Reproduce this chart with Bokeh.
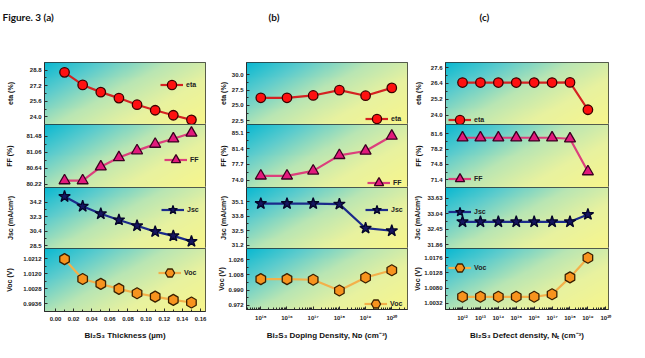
import numpy as np
from bokeh.plotting import figure
from bokeh.layouts import column, row
from bokeh.models import (Range1d, FixedTicker, PrintfTickFormatter, CustomJSTickFormatter,
                          Legend, LegendItem, Label)
from bokeh.embed import file_html
from bokeh.resources import INLINE

# ---------------- data ----------------
thickness_um = [0.01, 0.03, 0.05, 0.07, 0.09, 0.11, 0.13, 0.15]
eta_thk = [28.57, 27.28, 26.54, 25.93, 25.25, 24.68, 24.17, 23.70]
ff_thk = [80.32, 80.32, 80.68, 80.92, 81.10, 81.27, 81.41, 81.56]
jsc_thk = [34.97, 33.69, 32.71, 31.90, 31.14, 30.37, 29.82, 29.09]
voc_thk = [1.0208, 1.0087, 1.0057, 1.0027, 1.0000, 0.9980, 0.9960, 0.9944]

doping_cm3 = [1e15, 1e16, 1e17, 1e18, 1e19, 1e20]
eta_dop = [26.24, 26.24, 26.62, 27.48, 26.58, 27.85]
ff_dop = [75.03, 75.03, 76.19, 79.82, 80.84, 84.33]
jsc_dop = [34.95, 34.95, 34.95, 34.90, 32.73, 32.50]
voc_dop = [1.0029, 1.0029, 1.0021, 0.9894, 1.0048, 1.0133]

defect_cm3 = [1e12, 1e13, 1e14, 1e15, 1e16, 1e17, 1e18, 1e19]
eta_def = [26.47, 26.47, 26.47, 26.47, 26.47, 26.47, 26.48, 24.42]
ff_def = [80.72, 80.72, 80.72, 80.72, 80.72, 80.72, 80.50, 73.23]
jsc_def = [32.73, 32.73, 32.73, 32.73, 32.73, 32.73, 32.73, 33.01]
voc_def = [1.0053, 1.0053, 1.0053, 1.0053, 1.0053, 1.0061, 1.0114, 1.0176]

# tick values
thk_ticks = [0.00, 0.02, 0.04, 0.06, 0.08, 0.10, 0.12, 0.14, 0.16]
dop_ticks = [1e15, 1e16, 1e17, 1e18, 1e19, 1e20]
def_ticks = [1e12, 1e13, 1e14, 1e15, 1e16, 1e17, 1e18, 1e19, 1e20]

eta_thk_ticks = [24.0, 25.6, 27.2, 28.8]
ff_thk_ticks = [80.22, 80.64, 81.06, 81.48]
jsc_thk_ticks = [28.5, 30.4, 32.3, 34.2]
voc_thk_ticks = [0.9936, 1.0028, 1.0120, 1.0212]

eta_dop_ticks = [22.5, 25.0, 27.5, 30.0]
ff_dop_ticks = [74.0, 77.7, 81.4, 85.1]
jsc_dop_ticks = [31.2, 32.5, 33.8, 35.1]
voc_dop_ticks = [0.972, 0.990, 1.008, 1.026]

eta_def_ticks = [24.0, 25.2, 26.4, 27.6]
ff_def_ticks = [71.4, 74.8, 78.2, 81.6]
jsc_def_ticks = [31.86, 32.45, 33.04, 33.63]
voc_def_ticks = [1.0032, 1.0080, 1.0128, 1.0176]

y_titles = ["eta (%)", "FF (%)", "Jsc (mA/cm²)", "Voc (V)"]
series_names = ["eta", "FF", "Jsc", "Voc"]

# ---------------- styles ----------------
FONT = "Liberation Sans"
STYLE = {
    "eta": dict(marker="circle", size=9.5, fill="#ff1010", edge="#3a0000", line="#d42222", angle=0.0),
    "FF": dict(marker="triangle", size=11, fill="#e2197c", edge="#3a0020", line="#dc3f7c", angle=0.0),
    "Jsc": dict(marker="star", size=12, fill="#151560", edge="#05052a", line="#1b2a8a", angle=0.0),
    "Voc": dict(marker="hex", size=11, fill="#f7931e", edge="#3a2000", line="#f3b04a", angle=np.pi / 6),
}


def gradient(nx=160, ny=64):
    img = np.empty((ny, nx), dtype=np.uint32)
    v = img.view(dtype=np.uint8).reshape((ny, nx, 4))
    u = np.linspace(0, 1, nx)[None, :]
    w = np.linspace(0, 1, ny)[:, None]
    d = np.clip((u + (1 - w) * 0.7) / 1.7, 0, 1)
    stops = [0.0, 0.22, 0.45, 0.7, 1.0]
    cols = np.array([[10, 185, 210], [95, 205, 205], [185, 230, 180], [232, 242, 160], [248, 246, 140]],
                    dtype=float)
    for k in range(3):
        v[..., k] = np.interp(d, stops, cols[:, k]).astype(np.uint8)
    v[..., 3] = 255
    return img


GRAD = gradient()

COLS = {
    "a": dict(width=210, left=44, right=5, x=thickness_um, xr=(-0.0121, 0.1655), xtype="linear",
              xticks=thk_ticks, xlabel="Bi₂S₃ Thickness (µm)",
              ys=[eta_thk, ff_thk, jsc_thk, voc_thk],
              yr=[(23.22, 29.58), (80.14, 81.78), (28.16, 36.15), (0.9889, 1.0273)],
              yt=[eta_thk_ticks, ff_thk_ticks, jsc_thk_ticks, voc_thk_ticks],
              fmt=["%.1f", "%.2f", "%.1f", "%.4f"],
              standoff=[13, 10, 13, 7],
              leg=[(116, 28), (120, 16), (117, 27), (114, 27)]),
    "b": dict(width=201, left=36, right=4, x=doping_cm3, xr=(10 ** 14.454, 10 ** 20.6), xtype="log",
              xticks=dop_ticks, xlabel="Bi₂S₃ Doping Density, Nᴅ (cm⁻³)",
              ys=[eta_dop, ff_dop, jsc_dop, voc_dop],
              yr=[(21.90, 31.98), (72.30, 87.03), (30.90, 36.40), (0.9670, 1.0390)],
              yt=[eta_dop_ticks, ff_dop_ticks, jsc_dop_ticks, voc_dop_ticks],
              fmt=["%.1f", "%.1f", "%.1f", "%.3f"],
              standoff=[2, 2, 2, 0],
              leg=[(119, -6), (121, -7), (119, 27), (118, -6)]),
    "c": dict(width=218, left=34, right=21, x=defect_cm3, xr=(10 ** 11.05, 10 ** 20.15), xtype="log",
              xticks=def_ticks, xlabel="Bi₂S₃ Defect density, Nₜ (cm⁻³)",
              ys=[eta_def, ff_def, jsc_def, voc_def],
              yr=[(23.31, 27.98), (69.70, 83.65), (31.71, 34.04), (1.0013, 1.0205)],
              yt=[eta_def_ticks, ff_def_ticks, jsc_def_ticks, voc_def_ticks],
              fmt=["%.1f", "%.1f", "%.2f", "%.4f"],
              standoff=[6, 6, 3, 0],
              leg=[(3, -7), (3, -3), (3, 25), (3, 30)]),
}
ROWS = [(62, 0), (63, 0), (61, 0), (94, 31)]

LOG_FMT = CustomJSTickFormatter(code="""
const sup = {"0":"\u2070","1":"\u00b9","2":"\u00b2","3":"\u00b3","4":"\u2074","5":"\u2075",
             "6":"\u2076","7":"\u2077","8":"\u2078","9":"\u2079","-":"\u207b"};
const e = Math.round(Math.log10(tick));
return "10" + String(e).split("").map(c => sup[c]).join("");
""")


def minor_between(ticks):
    return [(ticks[i] + ticks[i + 1]) / 2 for i in range(len(ticks) - 1)]


def log_minor(lo, hi):
    out = []
    for n in range(lo, hi):
        for k in range(2, 10):
            out.append(k * 10.0 ** n)
    return out


def style_axis(ax):
    ax.axis_line_color = "#2b2b2b"
    ax.major_tick_line_color = "#2b2b2b"
    ax.minor_tick_line_color = "#2b2b2b"
    ax.major_tick_in = 3
    ax.major_tick_out = 0
    ax.minor_tick_in = 2
    ax.minor_tick_out = 0
    ax.major_label_text_font = FONT
    ax.major_label_text_font_style = "bold"
    ax.major_label_text_font_size = "6px"
    ax.major_label_text_color = "#222222"
    ax.axis_label_text_font = FONT
    ax.axis_label_text_font_style = "bold"
    ax.axis_label_text_color = "#111111"


columns = []
for key in ["a", "b", "c"]:
    c = COLS[key]
    figs = []
    for i, (h, bottom) in enumerate(ROWS):
        name = series_names[i]
        st = STYLE[name]
        x0, x1 = c["xr"]
        y0, y1 = c["yr"][i]
        p = figure(width=c["width"], height=h, x_range=Range1d(x0, x1), y_range=Range1d(y0, y1),
                   x_axis_type=c["xtype"], output_backend="svg", toolbar_location=None, tools="",
                   min_border_left=c["left"], min_border_right=c["right"],
                   min_border_top=0, min_border_bottom=bottom)
        p.grid.visible = False
        p.outline_line_color = "#2b2b2b"
        p.outline_line_width = 1
        p.background_fill_color = "white"
        p.border_fill_color = "white"

        p.image_rgba(image=[GRAD], x=x0, y=y0, dw=x1 - x0, dh=y1 - y0, level="image")

        lr = p.line(c["x"], c["ys"][i], line_color=st["line"], line_width=2.2)
        sr = p.scatter(c["x"], c["ys"][i], marker=st["marker"], size=st["size"], angle=st["angle"],
                       fill_color=st["fill"], line_color=st["edge"], line_width=1.3)

        # y axis
        yax = p.yaxis[0]
        style_axis(yax)
        yt = c["yt"][i]
        yax.ticker = FixedTicker(ticks=yt, minor_ticks=minor_between(yt))
        yax.formatter = PrintfTickFormatter(format=c["fmt"][i])
        yax.major_label_standoff = 3
        yax.axis_label = y_titles[i]
        yax.axis_label_text_font_size = "7px"
        yax.axis_label_standoff = c["standoff"][i]

        # x axis (only the bottom row shows it)
        xax = p.xaxis[0]
        if bottom > 0:
            style_axis(xax)
            xt = c["xticks"]
            if c["xtype"] == "log":
                lo = int(np.floor(np.log10(x0)))
                hi = int(np.ceil(np.log10(x1)))
                mt = [m for m in log_minor(lo, hi) if x0 < m < x1]
                xax.ticker = FixedTicker(ticks=xt, minor_ticks=mt)
                xax.formatter = LOG_FMT
            else:
                xax.ticker = FixedTicker(ticks=xt, minor_ticks=minor_between(xt))
                xax.formatter = PrintfTickFormatter(format="%.2f")
            xax.major_label_standoff = 5
            xax.axis_label = c["xlabel"]
            xax.axis_label_text_font_size = "8px"
            xax.axis_label_standoff = 7
        else:
            xax.visible = False

        leg = Legend(items=[LegendItem(label=name, renderers=[lr, sr])], location=c["leg"][i],
                     background_fill_alpha=0, border_line_alpha=0, padding=0, margin=0,
                     glyph_width=23, glyph_height=23, label_height=10, label_width=10,
                     label_standoff=3, spacing=0,
                     label_text_font=FONT, label_text_font_style="bold", label_text_font_size="7px",
                     label_text_color="#222222")
        p.add_layout(leg)
        figs.append(p)
    columns.append(column(*figs, spacing=0))

# header with panel captions
hdr = figure(width=629, height=62, x_range=Range1d(0, 629), y_range=Range1d(0, 62),
             x_axis_type=None, y_axis_type=None, output_backend="svg", toolbar_location=None,
             tools="", min_border=0)
hdr.grid.visible = False
hdr.outline_line_color = None
hdr.border_fill_color = "white"
hdr.background_fill_color = "white"
for txt, xx in [("Figure. 3 (a)", 2), ("(b)", 268), ("(c)", 479)]:
    hdr.add_layout(Label(x=xx, y=46, text=txt, text_font="Lato", text_font_style="bold",
                         text_font_size="10px", text_baseline="middle", text_color="#111111"))

layout = column(hdr, row(*columns, spacing=0), spacing=0)

open("out.html", "w").write(file_html(layout, INLINE))
